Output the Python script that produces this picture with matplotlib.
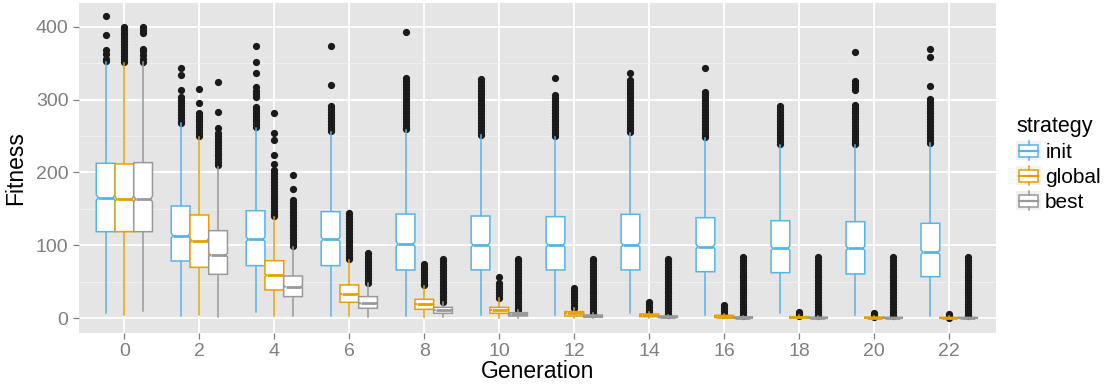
import numpy as np
import matplotlib
matplotlib.use('Agg')
import matplotlib.pyplot as plt
from matplotlib.patches import Rectangle, Patch
from matplotlib.lines import Line2D
from matplotlib.legend_handler import HandlerBase

plt.rcParams['font.family'] = ['Liberation Sans', 'DejaVu Sans']

generations = [0, 2, 4, 6, 8, 10, 12, 14, 16, 18, 20, 22]
strategies = ['init', 'global', 'best']
colors = {'init': '#56B4E9', 'global': '#E69F00', 'best': '#999999'}
N_OBS = 1400  # runs per box, only used for the notch size

# box statistics
init_q1 = [118.8, 78.6, 72.2, 72.2, 66.3, 66.3, 66.3, 66.3, 63.9, 62.6, 60.8, 57.1]
init_med = [165.5, 113.3, 108.3, 108.3, 101.9, 100.6, 100.6, 100.6, 98.3, 96.0, 96.0, 90.5]
init_q3 = [212.6, 154.0, 147.6, 146.3, 143.0, 140.3, 139.4, 142.6, 138.0, 133.9, 132.5, 130.3]
init_lo = [7.7, 3.2, 9.1, 3.2, 3.2, 4.5, 4.5, 6.8, 4.5, 6.8, 4.5, 3.2]
init_hi = [352, 267.4, 260.6, 256, 258.3, 251.4, 249, 253.7, 246.8, 237.7, 237.7, 240]

global_q1 = [118.8, 69.9, 38.8, 21.9, 12.3, 6.8, 3.2, 2.2, 0.9, 0.4, 0.3, 0.2]
global_med = [163.6, 106.5, 58.9, 33.3, 19.2, 11.4, 6.8, 4.0, 2.2, 1.2, 0.8, 0.6]
global_q3 = [211.7, 141.7, 79.0, 45.7, 26.0, 15.0, 9.1, 5.9, 4.0, 2.2, 1.6, 1.2]
global_lo = [4.5, 4.5, 3.2, 3.2, 2.2, 1.0, 0.5, 0.2, 0, 0, 0, 0]
global_hi = [349.7, 248.2, 138.5, 80, 44.4, 27.4, 13.7, 8.2, 6.0, 4.5, 3.0, 2.5]

best_q1 = [118.8, 60.3, 29.7, 13.7, 6.8, 3.2, 1.3, 0.9, 0.3, 0.2, 0.2, 0.2]
best_med = [163.6, 86.8, 43.4, 20.5, 10.9, 5.4, 3.0, 1.8, 0.9, 0.7, 0.6, 0.6]
best_q3 = [213.5, 120.2, 58.0, 29.7, 15.0, 7.7, 4.5, 3.2, 2.0, 1.5, 1.3, 1.2]
best_lo = [10.5, 1.3, 3.2, 2.0, 2.0, 1.0, 0.3, 0.1, 0, 0, 0, 0]
best_hi = [352, 208, 98.2, 48, 22.8, 11.4, 6.8, 5.0, 3.0, 2.5, 2.2, 2.0]

# outliers (dense runs listed point by point)
init_fliers = [
    [414, 388, 368, 362, 356, 353],
    [343, 334, 313, 304, 300, 296, 291, 287, 283, 279, 275, 271, 268],
    [373, 351, 337, 317, 312, 308, 304, 290, 286, 282, 278, 274, 270, 266, 262],
    [373, 320, 291, 287, 283, 279, 275, 271, 267, 263, 259, 257],
    [393, 329, 325, 321, 317, 313, 309, 305, 301, 297, 293, 289, 285, 281, 277, 273, 269, 265, 261, 259],
    [328, 324, 320, 316, 312, 308, 304, 300, 296, 292, 288, 284, 280, 276, 272, 268, 264, 260, 256, 252],
    [330, 306, 302, 298, 294, 290, 286, 282, 278, 274, 270, 266, 262, 258, 254, 250],
    [337, 327, 323, 319, 315, 311, 307, 303, 299, 295, 291, 287, 283, 279, 275, 271, 267, 263, 259, 255],
    [343, 311, 307, 303, 299, 295, 291, 287, 283, 279, 275, 271, 267, 263, 259, 255, 251, 248],
    [291, 287, 283, 279, 275, 271, 267, 263, 259, 255, 251, 247, 243, 239],
    [365, 325, 321, 317, 313, 293, 289, 285, 281, 277, 273, 269, 265, 261, 257, 253, 249, 245, 241, 239],
    [370, 359, 319, 301, 297, 293, 289, 285, 281, 277, 273, 269, 265, 261, 257, 253, 249, 245, 241],
]
global_fliers = [
    [400, 396, 392, 388, 384, 380, 376, 372, 368, 364, 360, 356, 352],
    [315, 296, 282, 278, 274, 270, 266, 262, 258, 254, 250],
    [282, 254, 245, 224, 212, 203, 199, 195, 191, 187, 183, 179, 175, 171, 167, 163, 159, 155, 151, 147, 143, 140],
    [144, 140, 136, 132, 128, 124, 120, 116, 112, 108, 104, 100, 96, 92, 88, 84, 81],
    [75, 71, 67, 63, 59, 55, 51, 47, 45],
    [56, 48, 44, 40, 36, 32, 28],
    [41, 37, 33, 29, 25, 21, 17, 14],
    [23, 19, 15, 11, 9],
    [18, 14, 10, 6],
    [9, 6, 3],
    [7, 4, 2],
    [6, 3, 1],
]
best_fliers = [
    [400, 395, 391, 370, 366, 361, 356, 352],
    [324, 283, 261, 254, 250, 246, 242, 238, 234, 230, 226, 222, 218, 214, 210],
    [196, 177, 162, 158, 154, 150, 146, 142, 138, 134, 130, 126, 122, 118, 114, 110, 106, 102, 99],
    [89, 85, 81, 77, 73, 69, 65, 61, 57, 53, 49],
    [82, 78, 74, 70, 66, 62, 58, 54, 50, 46, 42, 38, 34, 30, 26, 23],
    [82, 78, 74, 70, 66, 62, 58, 54, 50, 46, 42, 38, 34, 30, 26, 22, 18, 14, 12],
    [82, 78, 74, 70, 66, 62, 58, 54, 50, 46, 42, 38, 34, 30, 26, 22, 18, 14, 10, 7],
    [82, 78, 74, 70, 66, 62, 58, 54, 50, 46, 42, 38, 34, 30, 26, 22, 18, 14, 10, 6, 4],
    [84, 80, 76, 72, 68, 64, 60, 56, 52, 48, 44, 40, 36, 32, 28, 24, 20, 16, 12, 8, 4, 3],
    [84, 80, 76, 72, 68, 64, 60, 56, 52, 48, 44, 40, 36, 32, 28, 24, 20, 16, 12, 8, 4, 3],
    [84, 80, 76, 72, 68, 64, 60, 56, 52, 48, 44, 40, 36, 32, 28, 24, 20, 16, 12, 8, 4, 3],
    [84, 80, 76, 72, 68, 64, 60, 56, 52, 48, 44, 40, 36, 32, 28, 24, 20, 16, 12, 8, 4, 3],
]

stats = {
    'init': (init_q1, init_med, init_q3, init_lo, init_hi, init_fliers),
    'global': (global_q1, global_med, global_q3, global_lo, global_hi, global_fliers),
    'best': (best_q1, best_med, best_q3, best_lo, best_hi, best_fliers),
}
offsets = {'init': -0.5, 'global': 0.0, 'best': 0.5}


def draw_box(ax, x, q1, med, q3, lo, hi, fl, color, w=0.5, nw=0.8):
    notch = 1.58 * (q3 - q1) / np.sqrt(N_OBS)
    left, right = x - w / 2, x + w / 2
    nl, nr = x - w * nw / 2, x + w * nw / 2
    xs = [left, right, right, nr, right, right, left, left, nl, left, left]
    ys = [q1, q1, med - notch, med, med + notch, q3, q3, med + notch, med, med - notch, q1]
    ax.plot([x] * len(fl), fl, 'o', color='#1a1a1a', ms=5.2, mec='none', zorder=2)
    ax.plot([x, x], [q3, hi], color=color, lw=1.1, zorder=3)
    ax.plot([x, x], [lo, q1], color=color, lw=1.1, zorder=3)
    ax.fill(xs, ys, facecolor='white', edgecolor=color, lw=1.1, zorder=4)
    ax.plot([nl, nr], [med, med], color=color, lw=2.0, zorder=5, solid_capstyle='butt')


class BoxKey(HandlerBase):
    def create_artists(self, legend, orig_handle, xdescent, ydescent, width, height, fontsize, trans):
        c = orig_handle.get_edgecolor()
        x0, y0 = -xdescent, -ydescent
        bg = Rectangle((x0, y0), width, height, fc='#F2F2F2', ec='none', transform=trans)
        box = Rectangle((x0 + 0.12 * width, y0 + 0.2 * height), 0.76 * width, 0.6 * height,
                        fc='white', ec=c, lw=1.1, transform=trans)
        med = Line2D([x0 + 0.12 * width, x0 + 0.88 * width], [y0 + 0.5 * height] * 2, color=c, lw=1.6, transform=trans)
        wt = Line2D([x0 + 0.5 * width] * 2, [y0 + 0.8 * height, y0 + height], color=c, lw=1.1, transform=trans)
        wb = Line2D([x0 + 0.5 * width] * 2, [y0, y0 + 0.2 * height], color=c, lw=1.1, transform=trans)
        return [bg, box, med, wt, wb]


fig = plt.figure(figsize=(11.09, 3.87), dpi=100)
ax = fig.add_axes([79 / 1109, 1 - 333 / 387, (996 - 79) / 1109, 330 / 387])
ax.set_facecolor('#E5E5E5')

for s in strategies:
    q1, med, q3, lo, hi, fl = stats[s]
    for i, g in enumerate(generations):
        draw_box(ax, g + offsets[s], q1[i], med[i], q3[i], lo[i], hi[i], fl[i], colors[s])

ax.set_xlim(-1.21, 23.25)
ax.set_ylim(-20.2, 432.5)
ax.set_xticks(generations)
ax.set_yticks([0, 100, 200, 300, 400])
ax.set_yticks([50, 150, 250, 350], minor=True)
ax.grid(which='major', color='white', lw=1.3, zorder=0)
ax.grid(which='minor', axis='y', color='#F2F2F2', lw=0.6, zorder=0)
ax.set_axisbelow(True)
for sp in ax.spines.values():
    sp.set_visible(False)
ax.tick_params(which='major', colors='#7F7F7F', labelsize=14, length=4.5, width=0.9, pad=3)
ax.tick_params(which='minor', length=0)
ax.set_xlabel('Generation', fontsize=16.5, labelpad=0)
ax.set_ylabel('Fitness', fontsize=16.5, labelpad=6)

handles = [Patch(edgecolor=colors[s], facecolor='white', label=s) for s in strategies]
leg = fig.legend(handles=handles, handler_map={Patch: BoxKey()}, title='strategy',
                 loc='upper left', bbox_to_anchor=(1016 / 1109, 1 - 116 / 387),
                 frameon=False, fontsize=15, title_fontsize=15.5,
                 handlelength=1.2, handleheight=1.05, labelspacing=0.2,
                 handletextpad=0.2, borderpad=0.0, borderaxespad=0.0)
leg._legend_box.align = 'left'

fig.savefig('out.png', dpi=100)
